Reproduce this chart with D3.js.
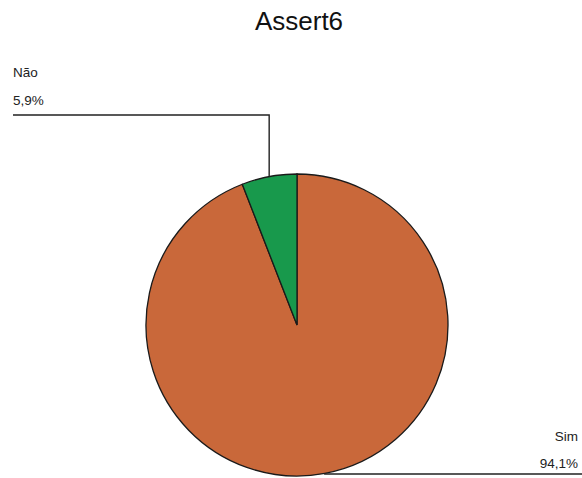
<!DOCTYPE html>
<html>
<head>
<meta charset="utf-8">
<script src="https://cdn.jsdelivr.net/npm/d3@7"></script>
<style>
  html, body { margin: 0; padding: 0; background: #fff; }
  svg { display: block; font-family: Arial, "Liberation Sans", sans-serif; }
</style>
</head>
<body>
<svg id="chart" width="582" height="478"></svg>
<script>
// Answer categories and their shares (%)
const categories = ["Sim", "Não"];
const values = [94.1, 5.9];
const valueLabels = ["94,1%", "5,9%"];
const colors = ["#c9683a", "#18994c"];
const title = "Assert6";

const svg = d3.select("#chart");
const cx = 297, cy = 325, r = 151;

svg.append("text")
  .attr("x", 299).attr("y", 30)
  .attr("text-anchor", "middle")
  .attr("font-size", 26)
  .attr("fill", "#111")
  .text(title);

const data = categories.map((c, i) => ({ name: c, value: values[i], label: valueLabels[i], color: colors[i] }));

// Sim runs clockwise from 12 o'clock; Não occupies the remainder just left of the top
const pie = d3.pie().value(d => d.value).sort(null);
const arcs = pie(data);
const arc = d3.arc().innerRadius(0).outerRadius(r);

const g = svg.append("g").attr("transform", `translate(${cx},${cy})`);
g.selectAll("path")
  .data(arcs)
  .join("path")
  .attr("d", arc)
  .attr("fill", d => d.data.color)
  .attr("stroke", "#1a1a1a")
  .attr("stroke-width", 1.3);

// Leader lines from the middle of each slice's rim
function rimPoint(d) {
  const a = (d.startAngle + d.endAngle) / 2;
  return [cx + r * Math.sin(a), cy - r * Math.cos(a)];
}

const lines = svg.append("g").attr("fill", "none").attr("stroke", "#222").attr("stroke-width", 1.4);
const labels = svg.append("g").attr("font-size", 13.5).attr("fill", "#222");

arcs.forEach(d => {
  const [px, py] = rimPoint(d);
  if (d.data.name === "Não") {
    const ly = 115;
    lines.append("path").attr("d", d3.line()([[px, py], [px, ly], [13, ly]]));
    labels.append("text").attr("x", 13).attr("y", 77).text(d.data.name);
    labels.append("text").attr("x", 13).attr("y", 105).text(d.data.label);
  } else {
    const ly = 474;
    lines.append("path").attr("d", d3.line()([[px, py], [px, ly], [582, ly]]));
    labels.append("text").attr("x", 578).attr("y", 441).attr("text-anchor", "end").text(d.data.name);
    labels.append("text").attr("x", 578).attr("y", 468).attr("text-anchor", "end").text(d.data.label);
  }
});
</script>
</body>
</html>
